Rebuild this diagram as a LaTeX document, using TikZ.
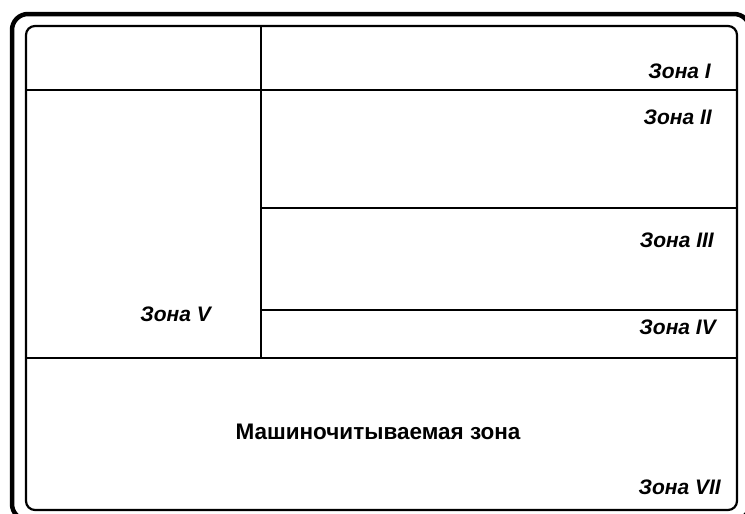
\documentclass[tikz,border=0pt]{standalone}
\usepackage{fontspec}
\setmainfont{Liberation Sans}
\usetikzlibrary{positioning}

\begin{document}
\begin{tikzpicture}[
    x=1pt,y=-1pt,
    outerframe/.style={line width=4.5pt,rounded corners=16pt},
    innerframe/.style={line width=2.2pt,rounded corners=9pt},
    divider/.style={line width=2.2pt},
    zone/.style={font=\fontsize{21}{23}\selectfont\bfseries\itshape,inner sep=0pt,anchor=east},
    mrz/.style={font=\fontsize{22.5}{24}\selectfont\bfseries,inner sep=0pt}
]
\useasboundingbox (0,0) rectangle (745,514);

% frames
\begin{scope}
  \clip (0,0) rectangle (745,514);
  \draw[outerframe] (12,14) rectangle (750,520);
\end{scope}
\draw[innerframe] (26,26) rectangle (737,510);

% zone dividers
\draw[divider] (261,26) -- (261,358);
\draw[divider] (26,90) -- (737,90);
\draw[divider] (261,208) -- (737,208);
\draw[divider] (261,310) -- (737,310);
\draw[divider] (26,358) -- (737,358);

% zone labels
\node[zone] (z1) at (711,71)  {Зона I};
\node[zone] (z2) at (712,117) {Зона II};
\node[zone] (z3) at (714,240) {Зона III};
\node[zone] (z4) at (716,327) {Зона IV};
\node[zone] (z5) at (211,314) {Зона V};
\node[mrz]  (mz) at (378,432) {Машиночитываемая зона};
\node[zone] (z7) at (721,487) {Зона VII};
\end{tikzpicture}
\end{document}
